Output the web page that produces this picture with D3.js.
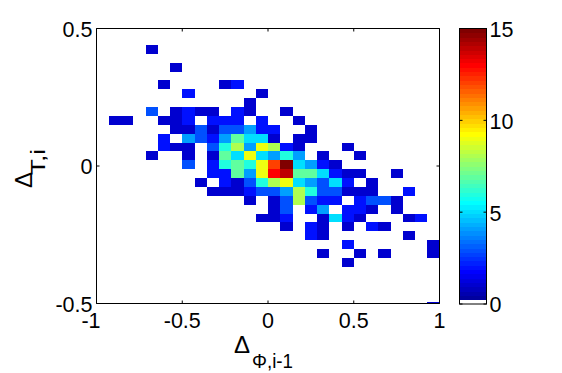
<!DOCTYPE html>
<html>
<head>
<meta charset="utf-8">
<script src="https://d3js.org/d3.v7.min.js"></script>
<style>
html, body { margin: 0; padding: 0; background: #fff; }
svg { display: block; }
text { font-family: "Liberation Sans", sans-serif; fill: #000; }
</style>
</head>
<body>
<div id="chart"></div>
<script>
// bin counts, top row first, 28 columns left to right
var counts = [
  [0,0,0,0,1,0,0,0,0,0,0,0,0,0,0,0,0,0,0,0,0,0,0,0,0,0,0,0],
  [0,0,0,0,0,0,0,0,0,0,0,0,0,0,0,0,0,0,0,0,0,0,0,0,0,0,0,0],
  [0,0,0,0,0,0,1,0,0,0,0,0,0,0,0,0,0,0,0,0,0,0,0,0,0,0,0,0],
  [0,0,0,0,0,0,0,0,0,0,0,0,0,0,0,0,0,0,0,0,0,0,0,0,0,0,0,0],
  [0,0,0,0,0,1,0,0,0,0,1,2,0,0,0,0,0,0,0,0,0,0,0,0,0,0,0,0],
  [0,0,0,0,0,0,0,2,0,0,0,0,0,1,0,0,0,0,0,0,0,0,0,0,0,0,0,0],
  [0,0,0,0,0,0,0,0,0,0,0,0,1,0,0,0,0,0,0,0,0,0,0,0,0,0,0,0],
  [0,0,0,0,3,0,1,2,1,1,0,2,1,0,0,1,0,0,0,0,0,0,0,0,0,0,0,0],
  [0,1,1,0,0,1,1,2,0,2,2,2,0,2,0,0,1,0,0,0,0,0,0,0,0,0,0,0],
  [0,0,0,0,0,0,1,1,3,1,3,3,4,2,2,0,0,1,0,0,0,0,0,0,0,0,0,0],
  [0,0,0,0,0,2,0,4,3,2,4,7,5,5,1,0,1,1,0,0,0,0,0,0,0,0,0,0],
  [0,0,0,0,0,2,1,1,0,3,6,8,4,9,8,2,1,0,0,0,1,0,0,0,0,0,0,0],
  [0,0,0,0,1,0,0,1,0,1,7,5,9,5,4,6,4,0,1,0,0,1,0,0,0,0,0,0],
  [0,0,0,0,0,0,0,3,0,2,6,7,6,9,12,15,5,4,2,1,0,0,0,0,0,0,0,0],
  [0,0,0,0,0,0,0,0,0,2,2,7,4,9,13,14,7,7,5,2,1,1,0,0,1,0,0,0],
  [0,0,0,0,0,0,0,0,1,0,2,1,3,6,8,9,5,4,3,5,2,0,1,0,0,0,0,0],
  [0,0,0,0,0,0,0,0,0,1,1,1,2,3,3,4,8,6,3,3,1,1,1,0,0,2,0,0],
  [0,0,0,0,0,0,0,0,0,0,0,0,1,0,1,3,8,3,2,2,0,2,3,3,1,0,0,0],
  [0,0,0,0,0,0,0,0,0,0,0,0,0,0,1,3,0,2,4,0,2,2,1,0,1,0,0,0],
  [0,0,0,0,0,0,0,0,0,0,0,0,0,1,1,2,0,0,1,5,2,1,0,0,0,1,2,0],
  [0,0,0,0,0,0,0,0,0,0,0,0,0,0,0,1,0,2,1,0,1,0,2,1,0,0,0,0],
  [0,0,0,0,0,0,0,0,0,0,0,0,0,0,0,0,0,2,1,0,0,0,0,0,0,1,0,0],
  [0,0,0,0,0,0,0,0,0,0,0,0,0,0,0,0,0,0,0,0,2,0,0,0,0,0,0,1],
  [0,0,0,0,0,0,0,0,0,0,0,0,0,0,0,0,0,0,1,0,0,1,0,1,0,0,0,1],
  [0,0,0,0,0,0,0,0,0,0,0,0,0,0,0,0,0,0,0,0,1,0,0,0,0,0,0,0],
  [0,0,0,0,0,0,0,0,0,0,0,0,0,0,0,0,0,0,0,0,0,0,0,0,0,0,0,0],
  [0,0,0,0,0,0,0,0,0,0,0,0,0,0,0,0,0,0,0,0,0,0,0,0,0,0,0,0],
  [0,0,0,0,0,0,0,0,0,0,0,0,0,0,0,0,0,0,0,0,0,0,0,0,0,0,0,0],
  [0,0,0,0,0,0,0,0,0,0,0,0,0,0,0,0,0,0,0,0,0,0,0,0,0,0,0,0],
  [0,0,0,0,0,0,0,0,0,0,0,0,0,0,0,0,0,0,0,0,0,0,0,0,0,0,0,1]
];
var xTicks = [-1, -0.5, 0, 0.5, 1];
var yTicks = [-0.5, 0, 0.5];
var cTicks = [0, 5, 10, 15];
var xDomain = [-1, 1];
var yDomain = [-0.5, 0.5];
var cDomain = [0, 15];
var binWidth = 2 / 28;
var binHeight = 1 / 31;
var firstRowTop = 0.44; // upper edge of the first row in counts

var width = 562, height = 373;
var plot = {left: 96.5, right: 439.5, top: 28.5, bottom: 303.5};
var bar = {left: 459.5, right: 486.5, top: 28.5, bottom: 304};

var svg = d3.select("#chart").append("svg")
    .attr("width", width)
    .attr("height", height);

var x = d3.scaleLinear().domain(xDomain).range([plot.left, plot.right]);
var y = d3.scaleLinear().domain(yDomain).range([plot.bottom, plot.top]);
var c = d3.scaleLinear().domain(cDomain).range([bar.bottom, bar.top]);

// matlab jet(64) with the first level swapped for white
function jet(i) {
    if (i == 0) return "#fff";
    var t = (i + 1) / 64;
    var ch = function(k) { return Math.round(255 * Math.max(0, Math.min(1, 1.5 - Math.abs(4 * t - k)))); };
    return d3.rgb(ch(3), ch(2), ch(1)).formatHex();
}
function level(v) {
    return Math.min(63, Math.floor(v / 15 * 64));
}

svg.append("defs").append("clipPath").attr("id", "plotClip")
  .append("rect")
    .attr("x", plot.left)
    .attr("y", plot.top)
    .attr("width", plot.right - plot.left)
    .attr("height", plot.bottom - plot.top);

//flatten to the non empty cells
var cells = [];
counts.forEach(function(row, r) {
    row.forEach(function(v, col) {
        if (v > 0) cells.push({r: r, col: col, v: v});
    });
});

svg.append("g").attr("clip-path", "url(#plotClip)")
  .selectAll("rect").data(cells).enter().append("rect")
    .attr("x", function(d) { return x(xDomain[0] + d.col * binWidth); })
    .attr("y", function(d) { return y(firstRowTop - d.r * binHeight); })
    .attr("width", x(binWidth) - x(0))
    .attr("height", y(0) - y(binHeight))
    .attr("shape-rendering", "crispEdges")
    .attr("fill", function(d) { return jet(level(d.v)); });

// axes, matlab style: ticks point inwards on all four sides
function styleAxis(g) {
    g.selectAll("path").attr("stroke", "#000").attr("stroke-width", 1);
    g.selectAll("line").attr("stroke", "#000").attr("stroke-width", 1);
    g.selectAll("text").attr("font-size", 21.5);
}
function noLabels(axis) { return axis.tickFormat(""); }
var fmt = function(d) { return String(d); };

svg.append("g").attr("transform", "translate(0," + plot.bottom + ")")
    .call(d3.axisBottom(x).offset(0).tickValues(xTicks).tickSizeInner(-3).tickSizeOuter(0).tickPadding(9).tickFormat(fmt))
    .call(styleAxis)
    // matlab pushes the -1 label left of its tick
    .selectAll("text").filter(function(d) { return d == -1; }).attr("dx", -5.5);
svg.append("g").attr("transform", "translate(0," + plot.top + ")")
    .call(noLabels(d3.axisTop(x).offset(0).tickValues(xTicks).tickSizeInner(-3).tickSizeOuter(0)))
    .call(styleAxis);
svg.append("g").attr("transform", "translate(" + plot.left + ",0)")
    .call(d3.axisLeft(y).offset(0).tickValues(yTicks).tickSizeInner(-3).tickSizeOuter(0).tickPadding(4).tickFormat(fmt))
    .call(styleAxis)
    .selectAll("text").attr("dy", "0.39em");
svg.append("g").attr("transform", "translate(" + plot.right + ",0)")
    .call(noLabels(d3.axisRight(y).offset(0).tickValues(yTicks).tickSizeInner(-3).tickSizeOuter(0)))
    .call(styleAxis);

// colorbar
svg.append("g").selectAll("rect").data(d3.range(64)).enter().append("rect")
    .attr("x", bar.left)
    .attr("width", bar.right - bar.left)
    .attr("y", function(i) { return c((i + 1) / 64 * 15); })
    .attr("height", c(0) - c(15 / 64) + 0.5)
    .attr("shape-rendering", "crispEdges")
    .attr("fill", jet);

svg.append("g").attr("transform", "translate(" + bar.right + ",0)")
    .call(d3.axisRight(c).offset(0).tickValues(cTicks).tickSizeInner(-3).tickSizeOuter(0).tickPadding(3).tickFormat(fmt))
    .call(styleAxis)
    .selectAll("text").attr("dy", "0.39em");
svg.append("g").attr("transform", "translate(" + bar.left + ",0)")
    .call(noLabels(d3.axisLeft(c).offset(0).tickValues(cTicks).tickSizeInner(-3).tickSizeOuter(0)))
    .call(styleAxis);
svg.append("rect")
    .attr("x", bar.left)
    .attr("y", bar.top)
    .attr("width", bar.right - bar.left)
    .attr("height", bar.bottom - bar.top)
    .attr("fill", "none")
    .attr("stroke", "#000")
    .attr("stroke-width", 1);

// axis titles
svg.append("text").attr("x", 234).attr("y", 353).attr("font-size", 24).text("Δ");
svg.append("text").attr("x", 252).attr("y", 368).attr("font-size", 21)
    .attr("textLength", 41).attr("lengthAdjust", "spacingAndGlyphs").text("Φ,i-1");

var yLabel = svg.append("g").attr("transform", "translate(32,188) rotate(-90)");
yLabel.append("text").attr("font-size", 24).text("Δ");
yLabel.append("text").attr("x", 13).attr("y", 13).attr("font-size", 21)
    .attr("textLength", 26).attr("lengthAdjust", "spacingAndGlyphs").text("T,i");
</script>
</body>
</html>
